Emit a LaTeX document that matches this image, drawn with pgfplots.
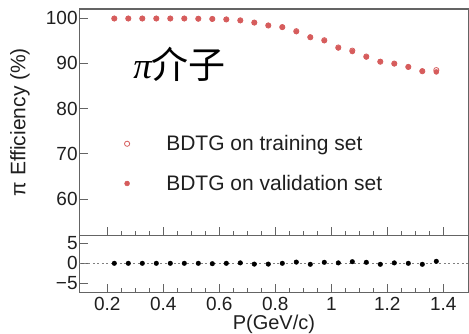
\documentclass[border=0pt]{standalone}
\usepackage{pgfplots}
\pgfplotsset{compat=1.18}
\usepackage{fontspec}
\setmainfont{Liberation Sans}
\newfontfamily\cjk{Noto Sans CJK SC}
\newfontfamily\tnr{Liberation Serif}
\definecolor{ptred}{RGB}{214,92,92}
\definecolor{axgray}{RGB}{100,100,100}

\pgfplotstableread{
x val train res
0.225 99.9 99.9 0.0
0.275 99.9 99.9 0.0
0.325 99.9 99.9 0.0
0.375 99.9 99.9 0.0
0.425 99.9 99.9 0.0
0.475 99.9 99.9 0.0
0.525 99.85 99.85 0.0
0.575 99.8 99.8 -0.1
0.625 99.7 99.7 0.0
0.675 99.45 99.5 0.1
0.725 99.0 99.0 -0.2
0.775 98.4 98.35 -0.2
0.825 98.0 98.0 0.0
0.875 97.0 97.1 0.3
0.925 95.8 95.75 -0.25
0.975 95.0 95.1 0.25
1.025 93.4 93.5 0.1
1.075 92.6 92.8 0.4
1.125 91.4 91.5 0.25
1.175 90.4 90.35 -0.25
1.225 89.9 89.95 0.1
1.275 89.2 89.2 0.0
1.325 88.3 88.25 -0.25
1.375 88.1 88.5 0.5
}\effdata

\begin{document}
\begin{tikzpicture}
\pgfplotsset{
  every axis/.append style={
    scale only axis, width=389.2pt,
    xmin=0.1, xmax=1.49,
    axis line style={axgray, line width=1.2pt},
    every tick/.style={axgray, line width=1pt},
    tick align=inside,
    major tick length=8.5pt, minor tick length=4.5pt,
    xtick={0.2,0.4,0.6,0.8,1,1.2,1.4}, minor x tick num=3,
    ytick pos=left, xtick pos=bottom,
    ticklabel style={font=\fontsize{19}{19}\selectfont, text=black!88},
    yticklabel style={inner sep=1.5pt},
    /pgf/number format/assume math mode=true,
  },
}
\begin{axis}[
  name=up,
  height=226.3pt,
  ymin=52, ymax=102,
  ytick={60,70,80,90,100},
  xticklabels={},
  ylabel={π Efficiency (\%)},
  ylabel style={at={(axis description cs:-0.1524,0.5)}, anchor=center, font=\fontsize{21}{21}\selectfont, text=black!88},
  legend image code/.code={\path (0pt,0pt) (60pt,0pt); \draw[mark repeat=2,mark phase=2,#1] plot coordinates {(0pt,0pt) (23pt,0pt) (46pt,0pt)};},
  legend style={draw=none, fill=none, font=\fontsize{21}{21}\selectfont, text=black!88,
    at={(0.055,0.46)}, anchor=north west, row sep=19pt},
  legend cell align=left,
]
\addplot[only marks, mark=o, mark size=2.6pt, color=ptred, mark options={line width=0.8pt}] table[x=x, y=train] {\effdata};
\addlegendentry{BDTG on training set}
\addplot[only marks, mark=*, mark size=2.5pt, color=ptred, mark options={draw=ptred, fill=ptred}] table[x=x, y=val] {\effdata};
\addlegendentry{BDTG on validation set}
\node[anchor=base west, inner sep=0] at (axis cs:0.292,86.6) {\fontsize{37}{37}\selectfont{\tnr\itshape π}{\cjk 介子}};
\end{axis}
\begin{axis}[
  name=low,
  at={(up.south west)}, anchor=north west,
  height=57pt,
  ymin=-7.25, ymax=7,
  ytick={-5,0,5}, yticklabels={−5,0,5},
  xticklabel style={anchor=center, yshift=-11.5pt},
  xlabel={P(GeV/c)},
  xlabel style={at={(axis description cs:0.5,0)}, anchor=center, yshift=-32pt, font=\fontsize{20}{20}\selectfont, text=black!88},
]
\addplot[gray, line width=0.8pt, dash pattern=on 2pt off 2.5pt] coordinates {(0.1,0) (1.49,0)};
\addplot[only marks, mark=*, mark size=2.3pt, black] table[x=x, y=res] {\effdata};
\end{axis}
\pgfresetboundingbox
\path[use as bounding box] ([xshift=-79.3pt,yshift=9pt]up.north west) rectangle ([xshift=0.5pt,yshift=-41.7pt]low.south east);
\end{tikzpicture}
\end{document}
